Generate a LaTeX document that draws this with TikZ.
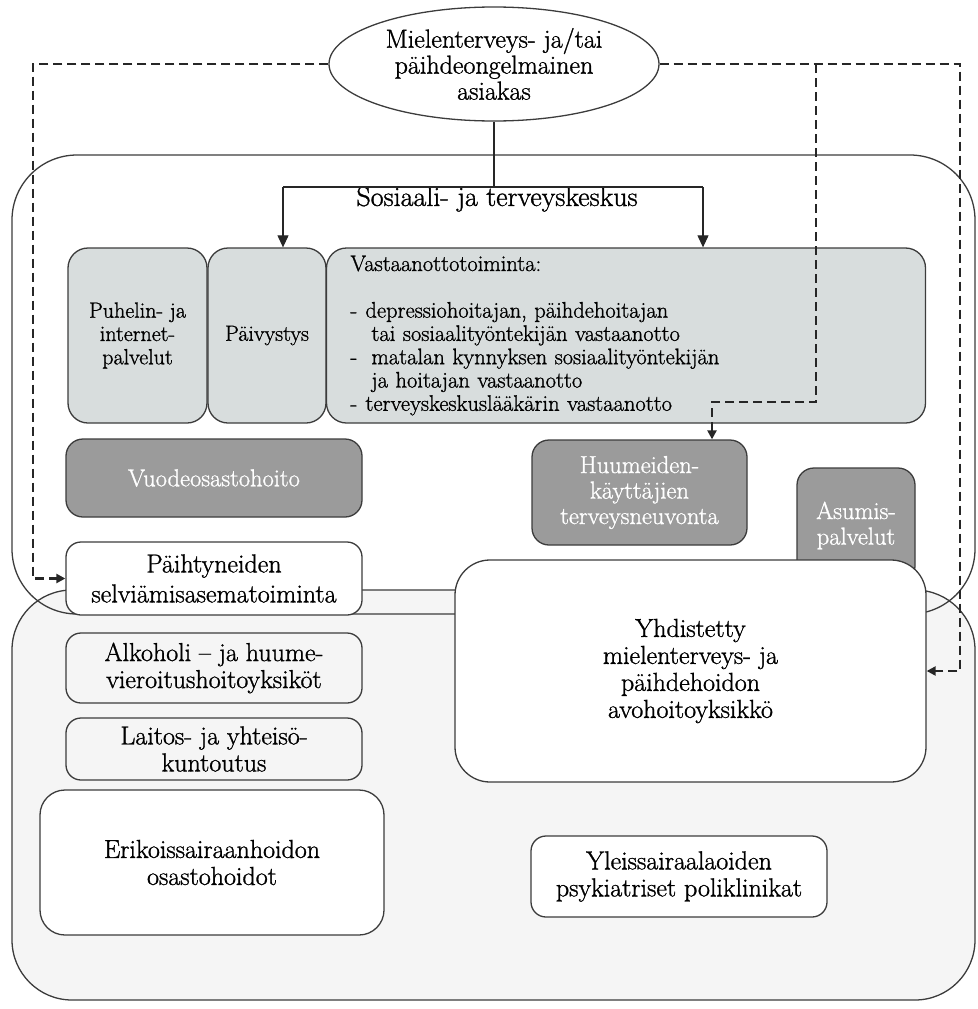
\documentclass[tikz,border=0pt]{standalone}
\usepackage{fontspec}
\setmainfont{Latin Modern Roman}[FakeBold=1.1]
\usetikzlibrary{shapes.geometric,arrows.meta}
\definecolor{lightbox}{HTML}{D8DDDD}
\definecolor{darkbox}{HTML}{9B9B9B}
\definecolor{outerfill}{HTML}{F5F5F5}
\definecolor{edge}{HTML}{3C3C3C}
\newcommand\szA{\fontsize{22}{23.3}\selectfont}
\newcommand\szV{\fontsize{22.5}{23.3}\selectfont}
\newcommand\szB{\fontsize{26}{27}\selectfont}
\newcommand\szC{\fontsize{24.5}{25.5}\selectfont}
\newcommand\szD{\fontsize{26}{30}\selectfont}
\begin{document}
\begin{tikzpicture}[x=1pt,y=-1pt,
  box/.style={draw=edge, line width=1.3pt, rounded corners=#1, inner sep=0pt, align=center},
  lightb/.style={box=20pt, fill=lightbox, font=\szA},
  darkb/.style={box=17pt, fill=darkbox, text=white, font=\szC},
  whiteb/.style={box=#1, fill=white, font=\szB},
  grayb/.style={box=15pt, fill=outerfill, font=\szB},
  conn/.style={draw=black!85, line width=1.1pt},
  arr/.style={conn, -{Triangle[length=12pt,width=11pt]}},
  dsh/.style={draw=black!85, line width=2.3pt, dash pattern=on 9pt off 5pt, -{Triangle[length=9pt,width=9pt]}}
]
\useasboundingbox (0,0) rectangle (977,1009);

% big containers
\node[box=60pt, fill=outerfill, minimum width=963pt, minimum height=410pt] (lower) at (493.5,795) {};
\node[box=65pt, minimum width=963pt, minimum height=459pt] (upper) at (493.5,384.5) {};

% client
\node[ellipse, draw=edge, line width=1.3pt, fill=white, minimum width=330pt, minimum height=114pt,
      inner sep=-4pt, align=center, font=\fontsize{26}{26}\selectfont] (el) at (494,64)
  {Mielenterveys- ja/tai\\päihdeongelmainen\\asiakas};

\node[font=\fontsize{28}{28}\selectfont] (title) at (497,199) {Sosiaali- ja terveyskeskus};

% first row
\node[lightb, minimum width=139pt, minimum height=175pt] (pu) at (137.5,335.5) {Puhelin- ja\\internet-\\palvelut};
\node[lightb, minimum width=118pt, minimum height=175pt] (pv) at (267,335.5) {Päivystys};
\node[lightb, font=\szV, text width=551pt, inner xsep=24pt, minimum height=175pt, align=left] (va) at (626,335.5)
  {Vastaanottotoiminta:\\[23.3pt]
   \makebox[15pt][l]{-}depressiohoitajan, päihdehoitajan\\
   \hspace*{21pt}tai sosiaalityöntekijän vastaanotto\\
   \makebox[21pt][l]{-}matalan kynnyksen sosiaalityöntekijän\\
   \hspace*{21pt}ja hoitajan vastaanotto\\
   \makebox[15pt][l]{-}terveyskeskuslääkärin vastaanotto};

% dark boxes
\node[darkb, minimum width=296pt, minimum height=78pt] (vu) at (214,478) {Vuodeosastohoito};
\node[darkb, minimum width=215pt, minimum height=105pt] (hu) at (639.5,492.5) {Huumeiden-\\käyttäjien\\terveysneuvonta};
\node[darkb, minimum width=118pt, minimum height=115pt] (as) at (856,525.5) {Asumis-\\palvelut};

% lower boxes
\node[whiteb=15pt, font=\szD, minimum width=296pt, minimum height=73pt] (pa) at (214,578.5) {Päihtyneiden\\selviämisasematoiminta};
\node[grayb, minimum width=296pt, minimum height=70pt] (al) at (214,668) {Alkoholi -- ja huume-\\vieroitushoitoyksiköt};
\node[grayb, minimum width=296pt, minimum height=62pt] (la) at (214,749) {Laitos- ja yhteisö-\\kuntoutus};
\node[whiteb=25pt, minimum width=344pt, minimum height=145pt] (er) at (212,862.5) {Erikoissairaanhoidon\\osastohoidot};
\node[whiteb=15pt, minimum width=296pt, minimum height=81pt] (yl) at (679,876.5) {Yleissairaalaoiden\\psykiatriset poliklinikat};
\node[whiteb=35pt, minimum width=471pt, minimum height=222pt] (yh) at (690.5,671) {Yhdistetty\\mielenterveys- ja\\päihdehoidon\\avohoitoyksikkö};

% solid connectors
\coordinate (split) at (494,187);
\coordinate (lt) at (283,187);
\coordinate (rt) at (703,187);
\draw[conn] (el.south) -- (split);
\draw[conn] (lt) -- (rt);
\draw[arr] (lt) -- (lt |- pv.north);
\draw[arr] (rt) -- (rt |- va.north);

% dashed connectors
\coordinate (dlt) at (33,64);
\coordinate (dlb) at (33,578.5);
\draw[dsh] (el.west) -- (dlt) -- (dlb) -- (pa.west);
\coordinate (drt) at (960,64);
\coordinate (drb) at (960,671);
\draw[dsh] (el.east) -- (drt) -- (drb) -- (yh.east);
\coordinate (bt) at (816,64);
\coordinate (bm) at (816,402);
\coordinate (bl) at (712,402);
\draw[dsh] (bt) -- (bm) -- (bl) -- (bl |- hu.north);
\end{tikzpicture}
\end{document}
